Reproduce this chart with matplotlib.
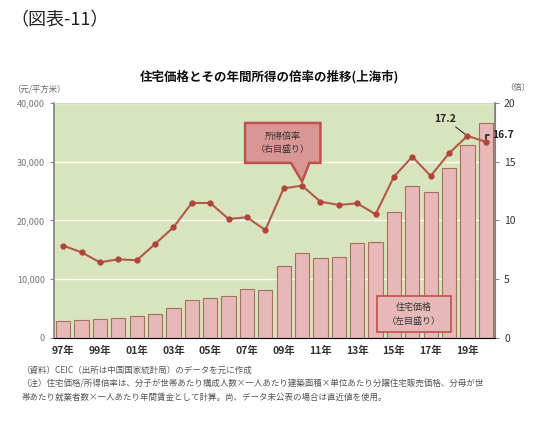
import matplotlib
matplotlib.use("Agg")
import matplotlib.pyplot as plt
from matplotlib.patches import Polygon, Rectangle
import numpy as np

plt.rcParams['font.family'] = ['Noto Sans CJK JP', 'DejaVu Sans']

years = list(range(1997, 2021))
price = [2950, 3060, 3230, 3400, 3690, 4140, 5050, 6470, 6750, 7100, 8290, 8170,
         12310, 14410, 13560, 13840, 16110, 16400, 21500, 25870, 24800, 28990, 32850, 36650]
ratio = [7.86, 7.29, 6.44, 6.70, 6.61, 8.0, 9.42, 11.49, 11.49, 10.13, 10.27, 9.19,
         12.74, 12.96, 11.6, 11.32, 11.46, 10.53, 13.73, 15.43, 13.79, 15.72, 17.2, 16.7]
xtick_labels = [f"{y % 100:02d}年" for y in years[::2]]
left_ticks = [0, 10000, 20000, 30000, 40000]
left_tick_labels = ["0", "10,000", "20,000", "30,000", "40,000"]
right_ticks = [0, 5, 10, 15, 20]

fig = plt.figure(figsize=(5.4, 4.23), dpi=100)
ax = fig.add_axes([0.1, 0.201, 0.8167, 0.5555])
ax.set_facecolor('#d7e4bd')
x = np.arange(len(years))
ax.bar(x, price, width=0.78, color='#e6b9b8', edgecolor='#a8705c', linewidth=0.8, zorder=2)
ax.set_xlim(-0.5, len(years) - 0.5)
ax.set_ylim(0, 40000)
ax.set_yticks(left_ticks)
ax.set_yticklabels(left_tick_labels, fontsize=6.5, color='#777777')
ax.set_xticks(x[::2])
ax.set_xticklabels(xtick_labels, fontsize=7.5, fontweight='bold', color='#333333')
ax.tick_params(axis='x', length=0, pad=6)
ax.tick_params(axis='y', length=3, color='#888888', width=0.8)
ax.grid(axis='y', color='white', linewidth=1.0, zorder=1)
ax.set_axisbelow(True)
ax.spines['top'].set_color('#cccccc')
ax.spines['top'].set_linewidth(0.6)
ax.spines['left'].set_color('#808080')
ax.spines['left'].set_linewidth(1.2)
ax.spines['bottom'].set_color('#999999')
ax.spines['right'].set_color('#808080')

ax2 = ax.twinx()
ax2.set_ylim(0, 20)
ax2.set_yticks(right_ticks)
ax2.set_yticklabels([str(t) for t in right_ticks], fontsize=7.5, color='#333333')
ax2.tick_params(axis='y', length=3, color='#888888', width=0.8)
ax2.spines['right'].set_color('#808080')
ax2.spines['right'].set_linewidth(1.2)
ax2.spines['left'].set_visible(False)
ax2.spines['top'].set_visible(False)
ax2.plot(x, ratio, color='#b35a46', linewidth=1.5, marker='o', markersize=3.5,
         markerfacecolor='#b0443a', markeredgecolor='#b0443a', zorder=5)

# value annotations
ax2.annotate(f"{ratio[-2]:.1f}", xy=(x[-2], ratio[-2]), xytext=(x[-2] - 1.2, 18.2),
             fontsize=7.5, fontweight='bold', color='#222222', ha='center', va='bottom',
             arrowprops=dict(arrowstyle='-', color='#333333', lw=0.8, shrinkA=0, shrinkB=2))
ax2.annotate(f"{ratio[-1]:.1f}", xy=(x[-1], ratio[-1]), xytext=(x[-1] + 0.35, 17.3),
             fontsize=7.5, fontweight='bold', color='#222222', ha='left', va='center',
             arrowprops=dict(arrowstyle='-', color='#222222', lw=1.2, shrinkA=0, shrinkB=2,
                             connectionstyle='angle,angleA=0,angleB=90,rad=0'))

# callout box for ratio (pointing to 2010)
box_fc = '#d99694'
box_ec = '#c0504d'
k = 13
tip_x, tip_y = x[k], ratio[k] + 0.35
bx0, bx1, bt, bb = tip_x - 3.1, tip_x + 1.0, 18.3, 14.9
callout = Polygon([[bx0, bt], [bx1, bt], [bx1, bb], [tip_x + 0.4, bb], [tip_x, tip_y],
                   [tip_x - 0.6, bb], [bx0, bb]], closed=True,
                  facecolor=box_fc, edgecolor=box_ec, linewidth=1.8, joinstyle='miter', zorder=6)
ax2.add_patch(callout)
ax2.text((bx0 + bx1) / 2, (bt + bb) / 2, "所得倍率\n（右目盛り）", fontsize=6.5, color='#333333',
         ha='center', va='center', zorder=8, linespacing=1.7)

# legend box for price
rect2 = Rectangle((17.1, 1000), 4.0, 6150, facecolor='#e6b9b8', edgecolor='#c0504d',
                  linewidth=1.2, zorder=6)
ax.add_patch(rect2)
ax.text(19.1, 4075, "住宅価格\n（左目盛り）", fontsize=6.5, color='#333333',
        ha='center', va='center', zorder=8, linespacing=1.7)

# texts
fig.text(0.02, 0.952, "（図表-11）", fontsize=13, color='#222222', ha='left', va='center')
fig.text(0.5, 0.818, "住宅価格とその年間所得の倍率の推移(上海市)", fontsize=9,
         fontweight='bold', color='#111111', ha='center', va='center')
fig.text(0.022, 0.789, "（元/平方米）", fontsize=6, color='#666666', ha='left', va='center')
fig.text(0.935, 0.792, "（倍）", fontsize=6, color='#666666', ha='left', va='center')

notes = ["（資料）CEIC（出所は中国国家統計局）のデータを元に作成",
         "（注）住宅価格/所得倍率は、分子が世帯あたり構成人数×一人あたり建築面積×単位あたり分譲住宅販売価格、分母が世",
         "帯あたり就業者数×一人あたり年間賃金として計算。尚、データ未公表の場合は直近値を使用。"]
for i, t in enumerate(notes):
    fig.text(0.04, 0.125 - i * 0.032, t, fontsize=6.1, color='#555555', ha='left', va='center')

fig.savefig('out.png', dpi=100, facecolor='white')
